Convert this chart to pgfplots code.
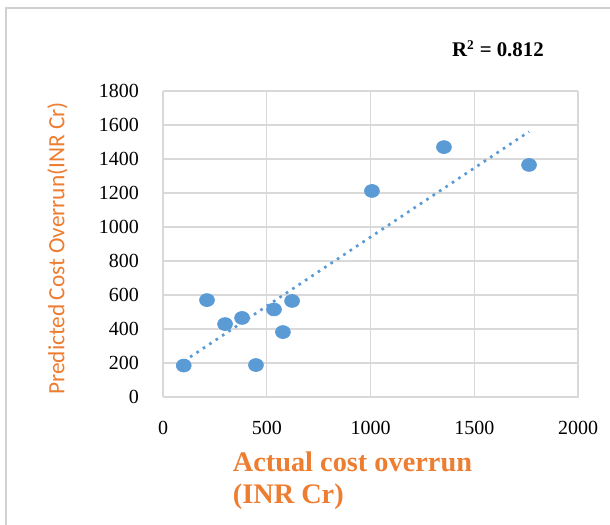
\documentclass[border=0pt]{standalone}
\usepackage{pgfplots}
\pgfplotsset{compat=1.18}
\usepackage{fontspec}
\setmainfont{Liberation Serif}
\newfontfamily\carlito{Carlito}
\definecolor{dotblue}{HTML}{5B9BD5}
\definecolor{lblorange}{HTML}{ED7D31}
\definecolor{gridgray}{HTML}{D9D9D9}
\definecolor{framegray}{HTML}{D0D0D0}

\begin{document}
\begin{tikzpicture}
% canvas 610x525 px, 1 px = 0.6pt
\path[use as bounding box] (0,0) rectangle (366pt,315pt);
\draw[framegray,line width=1.2pt] (3.6pt,0pt) -- (3.6pt,310.2pt) -- (366pt,310.2pt);
\begin{axis}[
  at={(97.8pt,76.8pt)}, anchor=south west,
  scale only axis, width=249pt, height=183.6pt,
  xmin=0, xmax=2000, ymin=0, ymax=1800,
  xtick={0,500,1000,1500,2000}, ytick={0,200,...,1800},
  /pgf/number format/assume math mode=true,
  /pgf/number format/1000 sep={},
  tick label style={font=\fontsize{12}{14}\selectfont},
  xticklabel style={yshift=-11pt},
  yticklabel style={xshift=-11pt},
  tick style={draw=none},
  axis line style={gridgray},
  grid=major, grid style={gridgray,line width=0.8pt},
  clip=false]
\addplot[only marks, mark=*, mark size=3.9pt, mark options={xscale=1.15,fill=dotblue,draw=dotblue}]
  coordinates {(100,185)(212,570)(299,429)(381,465)(448,188)(535,515)(578,382)(622,565)(1007,1212)(1354,1470)(1764,1365)};
\addplot[dotblue, line width=1.6pt, dash pattern=on 1.6pt off 3pt] coordinates {(100,210)(1764,1561)};
\end{axis}
\node[rotate=90,lblorange,font=\carlito\fontsize{14}{16}\selectfont,inner sep=0pt] at (34.5pt,166pt) {Predicted\,Cost Overrun(INR Cr)};
\node[anchor=north west,lblorange,align=left,font=\bfseries\fontsize{17}{19}\selectfont,inner sep=0pt] at (139.5pt,43.8pt) {Actual cost overrun\\(INR Cr)};
\node[anchor=base west,font=\bfseries\fontsize{12.5}{14}\selectfont,inner sep=0pt] at (271pt,280.8pt) {R\textsuperscript{\fontsize{8}{9}\selectfont 2} = 0.812};
\end{tikzpicture}
\end{document}
